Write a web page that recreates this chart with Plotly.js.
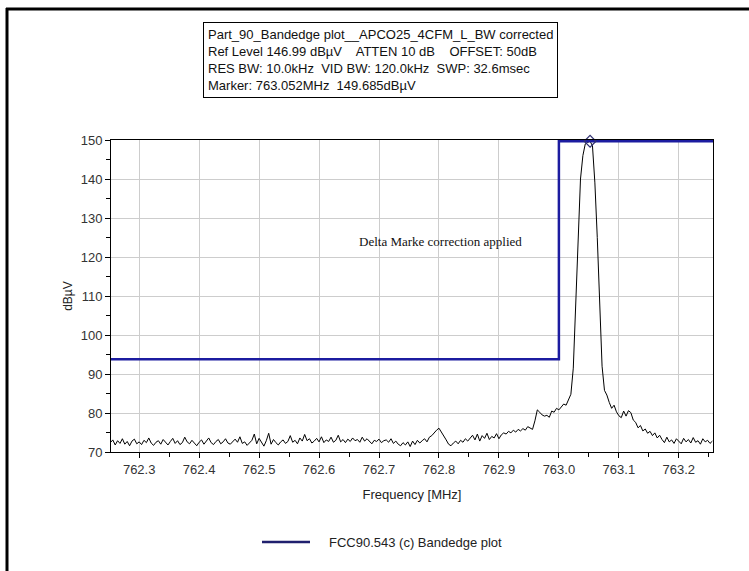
<!DOCTYPE html>
<html>
<head>
<meta charset="utf-8">
<script src="https://cdn.plot.ly/plotly-3.0.1.min.js"></script>
<style>
  html, body { margin: 0; padding: 0; background: #fff; }
  #chart { width: 749px; height: 571px; }
</style>
</head>
<body>
<div id="chart"></div>
<script>
// Sweep settings of the analyzer trace (MHz)
const sweepStart = 762.252;
const sweepStep = 0.004;

// Measured level per sweep point (dBµV)
const levels = [
  72.4, 73.1, 71.8, 72.9, 72.2, 73.4, 72.0, 72.7, 71.6, 72.8, 73.3, 72.1, 72.6, 71.9, 73.0, 72.4, 73.6, 72.3, 71.7, 72.5, 72.9, 72.0, 73.2, 72.6, 71.8,
  72.7, 73.5, 72.2, 72.9, 71.9, 72.4, 73.8, 72.6, 72.1, 73.0, 72.3, 71.6, 72.5, 73.1, 72.0, 72.8, 73.6, 72.4, 71.9, 72.7, 73.2, 72.1, 72.6, 73.4, 72.3,
  72.0, 72.8, 73.3, 72.5, 73.9, 72.2, 72.6, 71.7, 72.4, 73.0, 74.6, 72.1, 73.5, 72.3, 71.5, 72.9, 74.8, 72.0, 73.2, 72.4, 71.8, 72.6, 73.1, 72.2, 72.7,
  74.2, 72.5, 73.0, 72.1, 73.6, 72.8, 74.5, 72.9, 73.4, 72.3, 72.8, 73.5, 72.6, 73.9, 72.4, 73.1, 72.7, 73.8, 72.5, 73.0, 74.3, 72.6, 73.2, 72.4, 73.3,
  72.7, 73.6, 72.9, 73.2, 72.5, 73.8, 72.8, 73.4, 72.6, 72.1, 73.0, 72.7, 73.3, 72.4, 72.9, 73.1, 72.5, 73.4, 72.2, 72.8, 72.0, 71.6, 72.4, 71.8, 72.6,
  71.4, 72.8, 71.9, 73.0, 72.3, 72.9, 73.4, 72.6, 73.8,
  74.2, 75.0, 75.6, 76.1, 75.2, 74.0, 73.1,
  72.0, 71.6, 72.3, 72.8, 72.1, 73.0, 72.5, 73.4, 72.8, 73.6,
  74.3, 73.1, 74.6, 72.8, 74.2, 73.5, 74.8, 73.2, 74.0, 73.6, 74.7, 73.4,
  74.4, 74.9, 74.6, 75.3, 74.9, 75.6, 75.1, 75.8, 75.4, 76.0, 75.6, 76.5, 76.1, 75.8,
  78.0, 80.8, 80.2, 79.5, 79.2, 79.4, 78.9, 80.5, 80.2, 81.2, 80.8, 81.5, 82.3, 82.0, 83.5, 84.8,
  91.5, 109.0, 127.0, 140.0, 146.0, 149.0, 149.4, 149.685, 148.5, 139.0, 125.0, 106.0, 92.0,
  85.8, 84.6, 82.7, 81.2, 82.0, 80.3, 79.3, 78.8, 80.5, 79.2, 80.6, 80.1, 78.2, 77.6, 76.2, 76.8,
  75.4, 75.9, 74.8, 75.3, 74.2, 74.9, 73.6, 74.3, 73.2, 72.4, 73.8, 72.6, 73.1, 72.2, 73.4, 72.8,
  72.1, 73.5, 72.6, 73.2, 72.3, 73.7, 72.5, 72.9, 72.0, 73.4, 72.6, 73.0, 72.2, 72.8
];
const freqs = levels.map((_, i) => +(sweepStart + i * sweepStep).toFixed(4));

// FCC 90.543(c) limit mask
const limitFreqs = [762.20, 763.0, 763.0, 763.30];
const limitLevels = [93.8, 93.8, 149.7, 149.7];

// Peak marker
const markerFreq = [763.052];
const markerLevel = [149.685];

const infoLines = [
  'Part_90_Bandedge plot__APCO25_4CFM_L_BW corrected',
  'Ref Level 146.99 dBµV    ATTEN 10 dB    OFFSET: 50dB',
  'RES BW: 10.0kHz  VID BW: 120.0kHz  SWP: 32.6msec',
  'Marker: 763.052MHz  149.685dBµV'
];
const noteText = 'Delta Marke correction applied';
const limitName = 'FCC90.543 (c) Bandedge plot';

const W = 749, H = 571;
const M = { l: 111, r: 36, t: 140, b: 119 };
const PW = W - M.l - M.r, PH = H - M.t - M.b;
const px = x => (x - M.l) / PW;
const py = y => (H - M.b - y) / PH;

const SANS = '"Liberation Sans", Arial, sans-serif';
const LIMIT_COLOR = '#1c1ca0';

const traces = [
  {
    x: freqs, y: levels, type: 'scatter', mode: 'lines',
    line: { color: '#000000', width: 1 }, showlegend: false
  },
  {
    x: limitFreqs, y: limitLevels, type: 'scatter', mode: 'lines',
    name: limitName, line: { color: LIMIT_COLOR, width: 2.5 }, showlegend: false
  },
  {
    x: markerFreq, y: markerLevel, type: 'scatter', mode: 'markers',
    marker: { symbol: 'diamond-open', size: 9, color: '#303070', line: { width: 1.2 } },
    showlegend: false, cliponaxis: false
  }
];

const layout = {
  width: W, height: H,
  margin: M,
  paper_bgcolor: '#ffffff', plot_bgcolor: '#ffffff',
  font: { family: SANS, size: 13, color: '#222' },
  showlegend: false,
  xaxis: {
    range: [762.253, 763.257],
    tick0: 762.3, dtick: 0.1, tickformat: '.1f',
    ticks: 'outside', ticklen: 5, tickcolor: '#000',
    showline: true, linecolor: '#000', linewidth: 1, mirror: true,
    showgrid: true, gridcolor: '#cdcdcd', gridwidth: 1, zeroline: false,
    minor: { dtick: 0.05, ticks: 'outside', ticklen: 4, tickcolor: '#000' },
    tickfont: { family: SANS, size: 13, color: '#333' },
    title: { text: 'Frequency [MHz]', font: { family: SANS, size: 13, color: '#222' }, standoff: 14 }
  },
  yaxis: {
    range: [70, 150], dtick: 10,
    ticks: 'outside', ticklen: 5, tickcolor: '#000',
    showline: true, linecolor: '#000', linewidth: 1, mirror: true,
    showgrid: true, gridcolor: '#cdcdcd', gridwidth: 1, zeroline: false,
    minor: { dtick: 5, ticks: 'outside', ticklen: 4, tickcolor: '#000' },
    tickfont: { family: SANS, size: 13, color: '#333' },
    title: { text: 'dBµV', font: { family: SANS, size: 12, color: '#222' }, standoff: 5 }
  },
  annotations: [
    {
      xref: 'paper', yref: 'paper', x: px(203), y: py(22), xanchor: 'left', yanchor: 'top',
      text: infoLines.join('<br>'), align: 'left', showarrow: false,
      font: { family: SANS, size: 13, color: '#111' },
      bordercolor: '#000', borderwidth: 1, borderpad: 4, bgcolor: '#fff'
    },
    {
      xref: 'x', yref: 'y', x: 762.803, y: 124.1,
      text: noteText, showarrow: false,
      font: { family: '"Liberation Serif", "Times New Roman", serif', size: 13, color: '#111' }
    },
    // legend entry text
    {
      xref: 'paper', yref: 'paper', x: px(327), y: py(542), xanchor: 'left', yanchor: 'middle',
      text: limitName, showarrow: false,
      font: { family: SANS, size: 13, color: '#222' }
    }
  ],
  shapes: [
    // legend entry line
    { type: 'line', xref: 'paper', yref: 'paper', x0: px(262), x1: px(310), y0: py(542), y1: py(542), line: { color: '#20206e', width: 2.5 } },
    // outer frame
    { type: 'line', xref: 'paper', yref: 'paper', x0: px(7), x1: px(7), y0: py(8), y1: py(H + 5), line: { color: '#000', width: 3 } },
    { type: 'line', xref: 'paper', yref: 'paper', x0: px(6), x1: px(W + 5), y0: py(9), y1: py(9), line: { color: '#000', width: 3 } }
  ]
};

Plotly.newPlot('chart', traces, layout, { displayModeBar: false, staticPlot: true });
</script>
</body>
</html>
